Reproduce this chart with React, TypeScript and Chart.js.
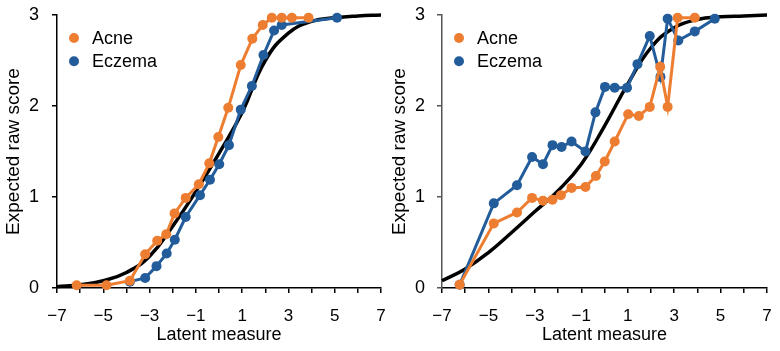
import React, { useEffect, useRef } from 'react';
import { Chart, registerables } from 'chart.js';

Chart.register(...registerables);

const FONT = '"Liberation Sans", Arial, sans-serif';
const ORANGE = '#ED7D31';
const BLUE = '#235C9A';

// Left panel
const leftAcneX = [-6.15, -4.86, -3.85, -3.19, -2.67, -2.28, -1.92, -1.44, -0.87, -0.42, -0.03, 0.4, 0.94, 1.44, 1.89, 2.28, 2.71, 3.15, 3.87];
const leftAcneY = [0.03, 0.03, 0.08, 0.37, 0.52, 0.59, 0.82, 0.99, 1.14, 1.37, 1.66, 1.98, 2.45, 2.74, 2.89, 2.97, 2.97, 2.97, 2.97];
const leftEczemaX = [-3.85, -3.19, -2.7, -2.26, -1.91, -1.44, -0.82, -0.39, 0.01, 0.43, 0.94, 1.42, 1.92, 2.38, 2.71, 5.1];
const leftEczemaY = [0.07, 0.11, 0.24, 0.38, 0.53, 0.78, 1.02, 1.19, 1.36, 1.57, 1.96, 2.22, 2.56, 2.83, 2.89, 2.97];
const leftCurveX = [-7, -6, -5, -4, -3, -2, -1, 0, 1, 2, 3, 4, 5, 6, 7];
const leftCurveY = [0.015, 0.035, 0.08, 0.17, 0.35, 0.68, 1.06, 1.48, 1.93, 2.5, 2.8, 2.93, 2.97, 2.99, 3.0];

// Right panel
const rightAcneX = [-6.24, -4.77, -3.77, -3.12, -2.65, -2.24, -1.88, -1.42, -0.82, -0.37, 0.01, 0.44, 1.02, 1.48, 1.95, 2.4, 2.72, 3.15, 3.89];
const rightAcneY = [0.035, 0.71, 0.83, 0.99, 0.96, 0.97, 1.02, 1.1, 1.11, 1.23, 1.39, 1.61, 1.91, 1.89, 1.99, 2.43, 1.99, 2.97, 2.97];
const rightEczemaX = [-6.24, -4.77, -3.77, -3.12, -2.65, -2.24, -1.85, -1.42, -0.82, -0.39, 0.02, 0.44, 0.97, 1.42, 1.95, 2.41, 2.72, 3.18, 3.89, 4.75];
const rightEczemaY = [0.035, 0.93, 1.13, 1.44, 1.36, 1.57, 1.55, 1.61, 1.5, 1.93, 2.21, 2.2, 2.2, 2.46, 2.77, 2.32, 2.96, 2.72, 2.82, 2.96];
const rightCurveX = [-7, -6, -5, -4, -3, -2, -1, 0, 1, 2, 3, 4, 5, 6, 7];
const rightCurveY = [0.08, 0.21, 0.39, 0.61, 0.84, 1.07, 1.36, 1.78, 2.24, 2.64, 2.86, 2.95, 2.98, 2.99, 3.0];

const seriesNames = ['Acne', 'Eczema'];
const xTickMin = -7;
const xTickMax = 7;
const yTickMax = 3;
const xTitle = 'Latent measure';
const yTitle = 'Expected raw score';

const zip = (xs: number[], ys: number[]) => xs.map((x, i) => ({ x, y: ys[i] }));

const legendPlugin = {
  id: 'floatLegend',
  afterDatasetsDraw(chart: any) {
    const { ctx, chartArea } = chart;
    const ds = chart.data.datasets.slice(0, 2);
    ctx.save();
    ds.forEach((d: any, i: number) => {
      const cy = chartArea.top + 23 + i * 23.3;
      const cx = chartArea.left + 17;
      ctx.beginPath();
      ctx.fillStyle = d.borderColor;
      ctx.arc(cx, cy, 5, 0, Math.PI * 2);
      ctx.fill();
      ctx.fillStyle = '#000';
      ctx.font = `18px ${FONT}`;
      ctx.textBaseline = 'middle';
      ctx.textAlign = 'left';
      ctx.fillText(d.label, chartArea.left + 35, cy + 1);
    });
    ctx.restore();
  },
};

type PanelProps = {
  acne: { x: number; y: number }[];
  eczema: { x: number; y: number }[];
  curve: { x: number; y: number }[];
  yWidth: number;
  padRight: number;
  yTitlePad: number;
  yTickPad: number;
  yAxisColor: string;
};

function Panel(props: PanelProps) {
  const ref = useRef<HTMLCanvasElement | null>(null);
  useEffect(() => {
    if (!ref.current) return;
    const pointStyle = (color: string) => ({
      borderColor: color,
      backgroundColor: color,
      pointBackgroundColor: color,
      pointBorderColor: color,
      pointRadius: 5,
      pointBorderWidth: 0,
      borderWidth: 3,
      tension: 0,
      clip: false as any,
    });
    const chart = new Chart(ref.current, {
      type: 'line',
      data: {
        datasets: [
          { label: seriesNames[0], data: props.acne, ...pointStyle(ORANGE) },
          { label: seriesNames[1], data: props.eczema, ...pointStyle(BLUE) },
          {
            label: 'Model',
            data: props.curve,
            borderColor: '#000',
            backgroundColor: '#000',
            borderWidth: 3.5,
            pointRadius: 0,
            tension: 0.45,
            clip: false as any,
          },
        ],
      },
      options: {
        animation: false,
        responsive: false,
        devicePixelRatio: 1,
        layout: { padding: { top: 15, right: props.padRight, left: 0, bottom: 0 } },
        plugins: { legend: { display: false }, tooltip: { enabled: false } },
        scales: {
          x: {
            type: 'linear',
            min: xTickMin,
            max: xTickMax,
            afterFit: (s: any) => {
              s.height = 63;
              s.paddingLeft = 0;
              s.paddingRight = 0;
            },
            border: { display: true, color: '#000', width: 1.5 },
            grid: { display: true, drawOnChartArea: false, drawTicks: true, tickLength: 5, color: '#000', lineWidth: 1.5 },
            ticks: {
              stepSize: 1,
              autoSkip: false,
              maxRotation: 0,
              padding: 13,
              color: '#000',
              font: { family: FONT, size: 17 },
              callback: (v: any) => (Math.abs(Number(v)) % 2 === 1 ? String(v).replace('-', '\u2212') : ''),
            },
            title: {
              display: true,
              text: xTitle,
              color: '#000',
              font: { family: FONT, size: 18, lineHeight: 1 },
              padding: { top: 0, bottom: 7 },
            },
          },
          y: {
            type: 'linear',
            min: 0,
            max: yTickMax,
            afterFit: (s: any) => {
              s.width = props.yWidth;
              s.paddingTop = 0;
              s.paddingBottom = 0;
            },
            border: { display: true, color: props.yAxisColor, width: 1.5 },
            grid: { display: true, drawOnChartArea: false, drawTicks: true, tickLength: 5, color: props.yAxisColor, lineWidth: 1.5 },
            ticks: {
              stepSize: 1,
              padding: props.yTickPad,
              color: '#000',
              font: { family: FONT, size: 18 },
            },
            title: {
              display: true,
              text: yTitle,
              color: '#000',
              font: { family: FONT, size: 19, lineHeight: 1 },
              padding: { top: props.yTitlePad, bottom: 0 },
            },
          },
        },
      },
      plugins: [legendPlugin],
    });
    return () => chart.destroy();
  }, []);
  return <canvas ref={ref} width={390} height={351} style={{ width: 390, height: 351, display: 'block' }} />;
}

export default function App() {
  return (
    <div style={{ position: 'absolute', left: 0, top: 0, width: 780, height: 351, display: 'flex', background: '#fff' }}>
      <Panel
        acne={zip(leftAcneX, leftAcneY)}
        eczema={zip(leftEczemaX, leftEczemaY)}
        curve={zip(leftCurveX, leftCurveY)}
        yWidth={57}
        padRight={9}
        yTitlePad={4.5}
        yTickPad={13}
        yAxisColor="#000"
      />
      <Panel
        acne={zip(rightAcneX, rightAcneY)}
        eczema={zip(rightEczemaX, rightEczemaY)}
        curve={zip(rightCurveX, rightCurveY)}
        yWidth={52}
        padRight={13}
        yTitlePad={0.5}
        yTickPad={12}
        yAxisColor="#555"
      />
    </div>
  );
}
